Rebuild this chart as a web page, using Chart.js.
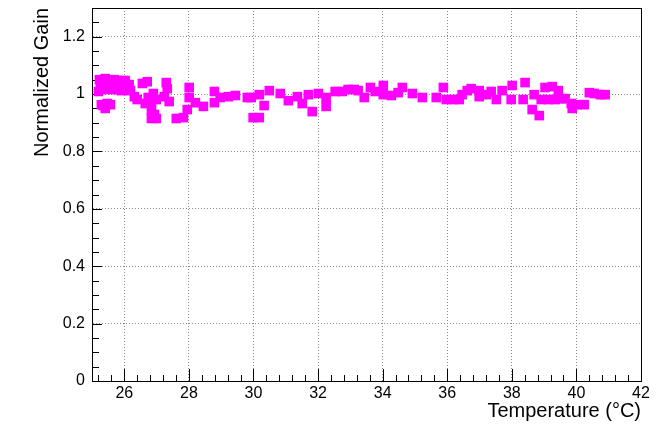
<!DOCTYPE html>
<html lang="en">
<head>
<meta charset="UTF-8">
<title>Normalized Gain vs Temperature</title>
<script src="https://cdn.jsdelivr.net/npm/chart.js"></script>
<style>
  body { margin: 0; padding: 0; background: #fff; }
  #wrap { width: 664px; height: 424px; }
</style>
</head>
<body>
<div id="wrap"><canvas id="chart" width="664" height="424"></canvas></div>
<script>
  // temperature (°C) and normalized gain
  const temps = [
    25.23, 25.32, 25.41, 25.50, 25.60, 25.69, 25.78, 25.88, 25.97,
    25.26, 25.38, 25.47, 25.57, 25.66, 25.75, 25.85, 25.94,
    25.29, 25.41, 25.54, 25.66, 25.78, 25.91, 26.03, 26.03, 25.20,
    25.35, 25.47, 25.41, 25.57, 25.29,
    26.15, 26.19, 26.31, 26.40, 26.56, 26.71, 26.74, 26.65, 26.84, 26.90, 26.99,
    26.84, 26.93, 26.84, 26.99,
    27.30, 27.33, 27.24, 27.39, 27.61, 27.83,
    28.01, 28.01, 27.95, 28.20, 28.45, 28.79, 28.79, 28.97, 29.22, 29.44, 29.81,
    29.93, 29.99, 30.18, 30.18, 30.33, 30.49, 30.83, 31.08, 31.36, 31.51, 31.70,
    31.82, 32.01, 32.25, 32.25,
    32.53, 32.75, 32.93, 33.12, 33.24, 33.43, 33.62, 33.77, 34.02, 34.02, 34.27,
    34.48, 34.61,
    34.92, 35.23, 35.66, 35.88, 35.97, 36.19, 36.37, 36.46, 36.62, 36.74, 36.99, 36.99,
    37.21, 37.36, 37.52, 37.70, 37.98, 38.01, 38.35, 38.41, 38.69, 38.63, 38.85,
    39.03, 38.91, 39.13, 39.34, 39.53, 39.25, 39.44,
    39.65, 39.84, 39.87, 40.02, 40.24, 40.40, 40.55, 40.74, 40.89
  ];
  const gains = [
    1.050, 1.047, 1.054, 1.050, 1.047, 1.050, 1.047, 1.043, 1.047,
    1.033, 1.030, 1.037, 1.030, 1.033, 1.030, 1.026, 1.033,
    1.019, 1.016, 1.019, 1.016, 1.016, 1.012, 1.026, 1.047, 1.009,
    0.960, 0.967, 0.950, 0.963, 0.963,
    1.033, 1.012, 0.991, 0.981, 1.037, 1.043, 0.988, 0.967, 0.970, 1.002, 0.981,
    0.943, 0.929, 0.915, 0.915,
    1.040, 1.019, 0.991, 0.974, 0.915, 0.918,
    1.023, 0.988, 0.946, 0.970, 0.957, 1.009, 0.970, 0.988, 0.991, 0.995, 0.988,
    0.988, 0.918, 0.918, 0.998, 0.960, 1.012, 1.002, 0.977, 0.991, 0.967, 0.998,
    0.939, 1.002, 0.988, 0.957,
    1.009, 1.009, 1.016, 1.016, 1.012, 0.988, 1.023, 1.009, 1.030, 0.998, 0.995,
    1.005, 1.023,
    1.002, 0.988, 0.988, 1.023, 0.981, 0.981, 0.981, 0.998, 1.012, 1.019, 1.012, 0.991,
    0.998, 1.009, 0.981, 1.012, 0.981, 1.030, 0.981, 1.040, 0.998, 0.946, 0.925,
    1.023, 0.981, 0.981, 0.981, 0.984, 1.026, 1.012,
    0.984, 0.967, 0.950, 0.963, 0.963, 1.005, 1.002, 0.998, 0.998
  ];

  // axis ranges and tick layout
  const xMin = 25, xMax = 42, xStep = 2, xMinor = 0.4;
  const yMin = 0, yMax = 1.3, yStep = 0.2, yMinor = 0.05;

  const points = temps.map((t, i) => ({ x: t, y: gains[i] }));

  // ROOT-like frame with inward major/minor tick marks
  const frameTicks = {
    id: 'frameTicks',
    beforeDatasetsDraw(chart) {
      const { ctx, chartArea: a, scales: { x, y } } = chart;
      ctx.save();
      ctx.strokeStyle = '#000';
      ctx.lineWidth = 1;
      ctx.beginPath();
      for (let k = -2; 26 + k * xMinor <= xMax + 1e-9; k++) {
        const v = 26 + k * xMinor;
        if (v < xMin) continue;
        const px = Math.round(x.getPixelForValue(v)) + 0.5;
        const len = (k % 5 === 0) ? 12 : 6;
        ctx.moveTo(px, a.bottom);
        ctx.lineTo(px, a.bottom - len);
      }
      for (let k = 0; k * yMinor <= yMax + 1e-9; k++) {
        const py = Math.round(y.getPixelForValue(k * yMinor)) + 0.5;
        const len = (k % 4 === 0) ? 10 : 7;
        ctx.moveTo(a.left, py);
        ctx.lineTo(a.left + len, py);
      }
      ctx.stroke();
      ctx.strokeRect(Math.round(a.left) + 0.5, Math.round(a.top) + 0.5,
                     Math.round(a.right - a.left), Math.round(a.bottom - a.top));
      ctx.restore();
    }
  };

  const family = "'Liberation Sans', Arial, sans-serif";
  const font = { family, size: 16 };

  function noPad(s) {
    s.paddingTop = 0; s.paddingBottom = 0; s.paddingLeft = 0; s.paddingRight = 0;
  }

  new Chart(document.getElementById('chart'), {
    type: 'scatter',
    data: {
      datasets: [{
        data: points,
        pointStyle: 'rect',
        pointRadius: 6.8,
        pointHoverRadius: 6.8,
        backgroundColor: '#ff00ff',
        borderColor: '#ff00ff',
        borderWidth: 0
      }]
    },
    options: {
      responsive: false,
      animation: false,
      layout: { padding: { top: 8, right: 23, left: 0, bottom: 0 } },
      plugins: { legend: { display: false }, tooltip: { enabled: false } },
      scales: {
        x: {
          type: 'linear',
          min: xMin, max: xMax,
          afterFit(s) { s.height = 43; noPad(s); },
          afterBuildTicks(s) { s.ticks = s.ticks.filter(t => Math.abs(t.value % xStep) < 1e-6); },
          ticks: { stepSize: xStep, color: '#000', font, padding: 3, maxRotation: 0, autoSkip: false },
          grid: { color: '#8a8a8a', drawTicks: false },
          border: { display: true, color: '#000', dash: [1, 2] },
          title: {
            display: true, text: 'Temperature (°C)', align: 'end', color: '#000',
            font: { family, size: 20 }, padding: { top: 1, bottom: 1 }
          }
        },
        y: {
          type: 'linear',
          min: yMin, max: yMax,
          afterFit(s) { s.width = 92; noPad(s); },
          afterBuildTicks(s) {
            s.ticks = s.ticks.filter(t => Math.abs(t.value / yStep - Math.round(t.value / yStep)) < 1e-6);
          },
          ticks: {
            stepSize: yStep, color: '#000', font, padding: 7,
            callback: v => String(+v.toFixed(2))
          },
          grid: { color: '#8a8a8a', drawTicks: false },
          border: { display: true, color: '#000', dash: [1, 2] },
          title: {
            display: true, text: 'Normalized Gain', align: 'end', color: '#000',
            font: { family, size: 20 }, padding: { top: 30, bottom: 0 }
          }
        }
      }
    },
    plugins: [frameTicks]
  });
</script>
</body>
</html>
